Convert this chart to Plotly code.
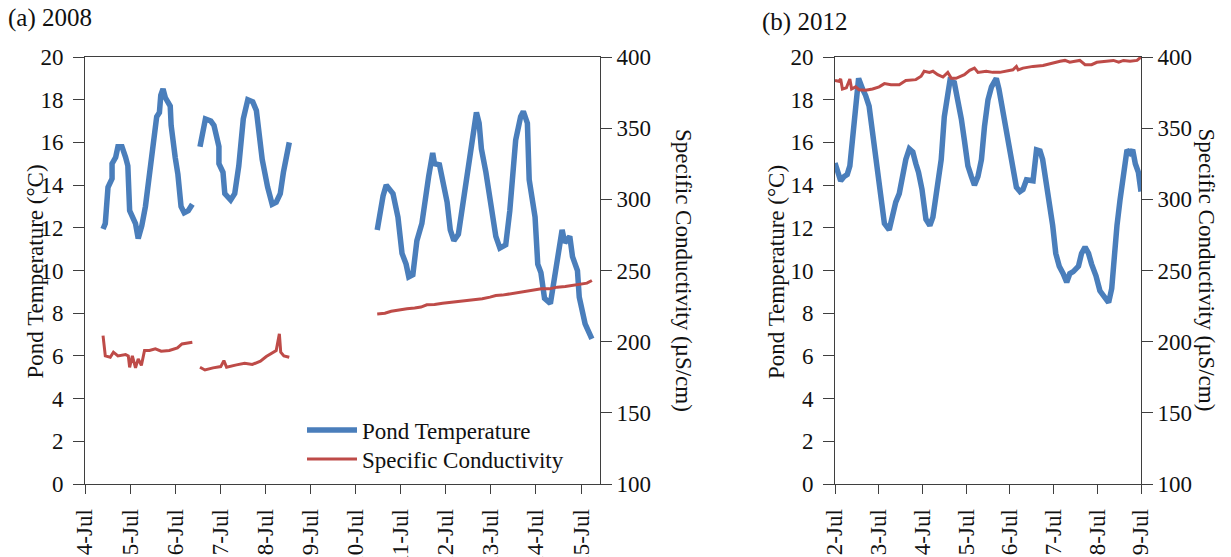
import plotly.graph_objects as go
import pandas as pd

# ---------------- data (day of July, fractional) ----------------
# (a) 2008 pond temperature (degC), three logging segments
t08_day_1 = [4.40, 4.45, 4.51, 4.60, 4.60, 4.68, 4.73, 4.82, 4.90, 4.95, 4.99, 5.12, 5.18, 5.26, 5.34,
             5.39, 5.48, 5.59, 5.65, 5.68, 5.73, 5.78, 5.89, 5.91, 6.00, 6.06, 6.13, 6.20, 6.29, 6.38]
t08_val_1 = [11.94, 12.2, 13.9, 14.3, 15.0, 15.3, 15.8, 15.8, 15.3, 14.9, 12.8, 12.2, 11.5, 12.1, 13.0,
             13.9, 15.0, 17.2, 17.4, 18.2, 18.5, 18.1, 17.7, 16.8, 15.3, 14.5, 13.0, 12.7, 12.8, 13.1]
t08_day_2 = [6.55, 6.61, 6.67, 6.79, 6.86, 6.97, 6.97, 7.06, 7.10, 7.23, 7.32, 7.41, 7.47, 7.51, 7.61,
             7.72, 7.80, 7.85, 7.93, 8.05, 8.15, 8.24, 8.33, 8.40, 8.43, 8.53]
t08_val_2 = [15.8, 16.4, 17.1, 17.0, 16.8, 15.8, 15.0, 14.6, 13.6, 13.3, 13.6, 14.9, 16.0, 17.1, 18.0,
             17.9, 17.5, 16.4, 15.2, 13.9, 13.1, 13.2, 13.6, 14.6, 14.9, 16.0]
t08_day_3 = [10.48, 10.54, 10.61, 10.68, 10.83, 10.94, 11.03, 11.12, 11.18, 11.27, 11.36, 11.47, 11.53,
             11.62, 11.71, 11.75, 11.86, 11.93, 12.03, 12.10, 12.18, 12.28, 12.35, 12.41, 12.48, 12.55,
             12.62, 12.68, 12.74, 12.79, 12.89, 12.98, 13.11, 13.20, 13.33, 13.42, 13.55, 13.66, 13.72,
             13.81, 13.85, 13.98, 14.04, 14.11, 14.19, 14.32, 14.37, 14.41, 14.50, 14.58, 14.64, 14.75,
             14.81, 14.92, 14.96, 15.09, 15.24]
t08_val_3 = [11.9, 12.8, 13.5, 14.0, 13.6, 12.5, 10.8, 10.3, 9.7, 9.8, 11.4, 12.2, 13.3,
             14.4, 15.5, 15.0, 14.95, 14.25, 13.2, 11.9, 11.4, 11.7, 12.7, 13.6, 14.9, 15.5,
             16.75, 17.4, 16.9, 15.7, 14.6, 13.3, 11.6, 11.05, 11.2, 12.8, 16.1, 17.2, 17.45,
             16.9, 14.25, 12.5, 10.3, 9.9, 8.7, 8.45, 9.1, 9.7, 10.8, 11.9, 11.3, 11.6,
             10.65, 10.0, 8.75, 7.5, 6.8]

# (a) 2008 specific conductivity (uS/cm)
c08_day_1 = [4.40, 4.45, 4.56, 4.63, 4.73, 4.90, 4.96, 4.99, 5.05, 5.12, 5.18, 5.25, 5.32, 5.43, 5.56,
             5.69, 5.87, 6.05, 6.15, 6.38]
c08_val_1 = [204.3, 190.0, 189.1, 192.6, 190.0, 190.9, 190.0, 182.0, 190.0, 181.6, 187.9, 183.3, 193.8,
             193.8, 195.0, 193.3, 193.8, 195.6, 198.4, 199.6]
c08_day_2 = [6.55, 6.66, 6.84, 7.01, 7.08, 7.14, 7.36, 7.54, 7.71, 7.89, 8.02, 8.24, 8.31, 8.34, 8.41, 8.53]
c08_val_2 = [182.0, 180.1, 181.6, 182.5, 186.7, 182.0, 183.7, 184.9, 184.0, 186.3, 189.6, 193.8, 205.5,
             192.6, 190.0, 189.1]
c08_day_3 = [10.48, 10.65, 10.79, 10.96, 11.14, 11.31, 11.45, 11.58, 11.75, 11.93, 12.10, 12.28, 12.45,
             12.63, 12.81, 12.98, 13.11, 13.25, 13.42, 13.55, 13.68, 13.86, 13.99, 14.12, 14.30, 14.47,
             14.65, 14.83, 15.00, 15.13, 15.24]
c08_val_3 = [219.5, 220.0, 221.4, 222.4, 223.1, 223.6, 224.3, 225.9, 226.1, 227.0, 227.5, 228.4, 228.9,
             229.4, 230.1, 231.3, 232.4, 232.7, 233.6, 234.1, 234.8, 235.5, 236.4, 237.1, 237.1, 238.3,
             238.8, 239.7, 240.6, 241.1, 243.0]

# (b) 2012 pond temperature (degC)
t12_day = [2.00, 2.05, 2.13, 2.21, 2.28, 2.34, 2.40, 2.46, 2.54, 2.63, 2.70, 2.78, 2.86, 2.92, 2.97,
           3.05, 3.13, 3.24, 3.32, 3.39, 3.47, 3.55, 3.62, 3.70, 3.78, 3.85, 3.91, 3.99, 4.08, 4.17,
           4.24, 4.31, 4.43, 4.50, 4.58, 4.63, 4.73, 4.81, 4.89, 4.96, 5.04, 5.12, 5.19, 5.27, 5.35,
           5.42, 5.50, 5.58, 5.69, 5.75, 5.84, 5.92, 6.00, 6.07, 6.15, 6.23, 6.30, 6.38, 6.46, 6.53,
           6.61, 6.69, 6.75, 6.82, 6.90, 6.98, 7.05, 7.13, 7.22, 7.30, 7.37, 7.45, 7.57, 7.64, 7.72,
           7.80, 7.87, 7.97, 8.06, 8.18, 8.26, 8.33, 8.37, 8.45, 8.52, 8.60, 8.68, 8.75, 8.81, 8.87,
           8.94, 9.00]
t12_val = [15.03, 14.7, 14.2, 14.4, 14.5, 14.9, 16.0, 17.2, 19.0, 18.5, 18.2, 17.7, 16.4, 15.2, 14.4,
           13.0, 12.2, 11.9, 12.7, 13.2, 13.6, 14.6, 15.2, 15.7, 15.55, 15.0, 14.6, 13.8, 12.4, 12.1,
           12.5, 13.5, 15.2, 17.2, 18.55, 18.9, 18.8, 18.0, 17.1, 16.1, 14.9, 14.4, 14.0, 14.4, 15.2,
           16.75, 18.0, 18.6, 19.0, 18.5, 17.4, 16.4, 15.5, 14.6, 13.9, 13.7, 13.8, 14.25, 14.2, 14.2,
           15.65, 15.6, 15.2, 14.25, 13.3, 12.1, 10.8, 10.2, 9.85, 9.45, 9.85, 9.95, 10.2, 10.8, 11.1,
           10.8, 10.3, 9.75, 9.05, 8.75, 8.5, 9.15, 10.3, 12.1, 13.3, 14.6, 15.65, 15.5, 15.65, 15.0,
           14.6, 13.7]

# (b) 2012 specific conductivity (uS/cm)
c12_day = [2.00, 2.09, 2.13, 2.17, 2.26, 2.34, 2.38, 2.47, 2.55, 2.70, 2.86, 3.01, 3.13, 3.28, 3.47,
           3.62, 3.85, 3.97, 4.04, 4.16, 4.24, 4.35, 4.47, 4.58, 4.66, 4.77, 4.96, 5.08, 5.19, 5.27,
           5.46, 5.61, 5.77, 5.92, 6.07, 6.15, 6.19, 6.30, 6.53, 6.76, 6.92, 7.15, 7.26, 7.37, 7.49,
           7.60, 7.72, 7.87, 7.99, 8.22, 8.37, 8.49, 8.60, 8.75, 8.91, 9.00]
c12_val = [383.5, 382.9, 384.6, 377.5, 378.3, 384.6, 377.5, 379.0, 377.0, 376.6, 377.5, 379.0, 381.3,
           380.5, 380.5, 383.5, 384.1, 386.5, 390.0, 389.2, 390.0, 387.6, 385.9, 389.2, 385.0, 385.0,
           387.6, 390.6, 392.2, 389.2, 390.0, 389.2, 389.2, 390.0, 391.0, 393.4, 391.0, 392.2, 393.4,
           394.0, 395.4, 397.0, 397.6, 396.3, 397.0, 397.6, 394.6, 394.6, 396.3, 397.0, 397.6, 396.3,
           397.6, 397.0, 397.6, 400.0]

temp_ticks = [0, 2, 4, 6, 8, 10, 12, 14, 16, 18, 20]
cond_ticks = [100, 150, 200, 250, 300, 350, 400]

# ---------------- helpers ----------------
def to_dt(year, days):
    base = pd.Timestamp(f"{year}-07-01")
    return [base + pd.to_timedelta(d - 1, unit="D") for d in days]

def join(year, *segs):
    xs, ys = [], []
    for i in range(0, len(segs), 2):
        if xs:
            xs.append(None); ys.append(None)
        xs += to_dt(year, segs[i]); ys += list(segs[i + 1])
    return xs, ys

BLUE = "#4A7EBB"
RED = "#BE4B48"
AX = "#3f3f3f"
FONT = "Liberation Serif"
FS = 23
TXT = "#111111"

fig = go.Figure()
x, y = join(2008, t08_day_1, t08_val_1, t08_day_2, t08_val_2, t08_day_3, t08_val_3)
fig.add_trace(go.Scatter(x=x, y=y, mode="lines", name="Pond Temperature", legend="legend",
                         line=dict(color=BLUE, width=5.5), xaxis="x", yaxis="y"))
x, y = join(2008, c08_day_1, c08_val_1, c08_day_2, c08_val_2, c08_day_3, c08_val_3)
fig.add_trace(go.Scatter(x=x, y=y, mode="lines", name="Specific Conductivity", legend="legend2",
                         line=dict(color=RED, width=3), xaxis="x", yaxis="y2"))
fig.add_trace(go.Scatter(x=to_dt(2012, t12_day), y=t12_val, mode="lines", showlegend=False,
                         line=dict(color=BLUE, width=5.5), xaxis="x2", yaxis="y3"))
fig.add_trace(go.Scatter(x=to_dt(2012, c12_day), y=c12_val, mode="lines", showlegend=False,
                         line=dict(color=RED, width=3), xaxis="x2", yaxis="y4"))

W, H = 1231, 557
def px(v): return v / W
def py(v): return 1 - v / H

ydom = [py(484), py(57)]
common_x = dict(type="date", dtick=86400000, tickformat="%-d-%b", tickangle=-90, ticks="outside",
                ticklen=9, tickcolor=AX, showline=True, linecolor=AX, linewidth=1, mirror=True,
                showgrid=False, zeroline=False, automargin=False, ticklabelstandoff=6,
                tickfont=dict(family=FONT, size=FS, color=TXT))
common_y = dict(ticks="outside", ticklen=11, tickcolor=AX, showline=True, linecolor=AX, linewidth=1,
                showgrid=False, zeroline=False, domain=ydom, automargin=False, ticklabelstandoff=5,
                tickfont=dict(family=FONT, size=FS, color=TXT))
right_y = dict(common_y, ticklabelstandoff=0)

legend_common = dict(xanchor="left", yanchor="middle", bgcolor="rgba(0,0,0,0)",
                     font=dict(family=FONT, size=FS, color=TXT), itemwidth=50,
                     borderwidth=0)

fig.update_layout(
    width=W, height=H, margin=dict(l=0, r=0, t=0, b=0, autoexpand=False),
    plot_bgcolor="white", paper_bgcolor="white",
    font=dict(family=FONT, size=FS, color=TXT),
    xaxis=dict(common_x, domain=[px(85), px(600)], anchor="y",
               range=[pd.Timestamp("2008-07-04"), pd.Timestamp("2008-07-15 10:05")],
               tick0="2008-07-04"),
    yaxis=dict(common_y, range=[0, 20], tickvals=temp_ticks, anchor="x"),
    yaxis2=dict(right_y, range=[100, 400], tickvals=cond_ticks, overlaying="y", side="right", anchor="x"),
    xaxis2=dict(common_x, domain=[px(835), px(1141)], anchor="y3",
                range=[pd.Timestamp("2012-07-02"), pd.Timestamp("2012-07-09")],
                tick0="2012-07-02"),
    yaxis3=dict(common_y, range=[0, 20], tickvals=temp_ticks, anchor="x2"),
    yaxis4=dict(right_y, range=[100, 400], tickvals=cond_ticks, overlaying="y3", side="right", anchor="x2"),
    legend=dict(legend_common, x=px(302), y=py(430)),
    legend2=dict(legend_common, x=px(302), y=py(459)),
    annotations=[
        dict(text="(a) 2008", x=px(6), y=py(18), xref="paper", yref="paper", xanchor="left",
             yanchor="middle", showarrow=False, font=dict(family=FONT, size=25)),
        dict(text="(b) 2012", x=px(760), y=py(22), xref="paper", yref="paper", xanchor="left",
             yanchor="middle", showarrow=False, font=dict(family=FONT, size=25)),
        dict(text="Pond Temperature (°C)", x=px(20), y=py(272), xref="paper", yref="paper",
             textangle=-90, showarrow=False, font=dict(family=FONT, size=FS)),
        dict(text="Specific Conductivity (µS/cm)", x=px(684), y=py(270), xref="paper", yref="paper",
             textangle=90, showarrow=False, font=dict(family=FONT, size=FS)),
        dict(text="Pond Temperature (°C)", x=px(776), y=py(272), xref="paper", yref="paper",
             textangle=-90, showarrow=False, font=dict(family=FONT, size=FS)),
        dict(text="Specific Conductivity (µS/cm)", x=px(1221), y=py(270), xref="paper", yref="paper",
             textangle=90, showarrow=False, font=dict(family=FONT, size=FS)),
    ],
)

fig.write_html("out.html", config={"displayModeBar": False},
               post_script="document.body.style.margin='0px';document.body.style.overflow='hidden';")
